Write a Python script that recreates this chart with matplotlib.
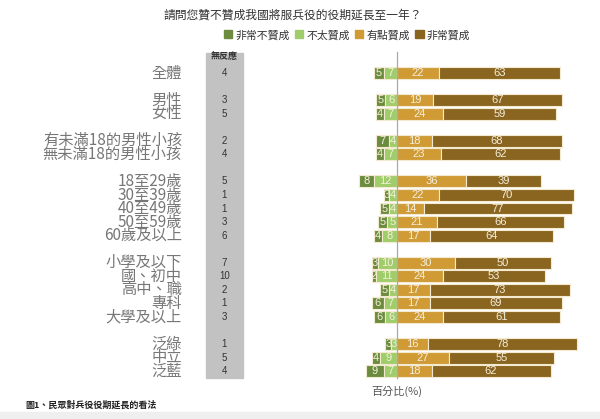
import matplotlib.pyplot as plt
import matplotlib.patches as mpatches
import numpy as np

plt.rcParams['font.family'] = ['Noto Sans CJK TC', 'DejaVu Sans']

labels = ['全體', '', '男性', '女性', '', '有未滿18的男性小孩', '無未滿18的男性小孩', '',
          '18至29歲', '30至39歲', '40至49歲', '50至59歲', '60歲及以上', '',
          '小學及以下', '國、初中', '高中、職', '專科', '大學及以上', '',
          '泛綠', '中立', '泛藍']
strongly_against = [5, None, 5, 4, None, 7, 4, None, 8, 3, 5, 5, 4, None, 3, 2, 5, 6, 6, None, 3, 4, 9]
somewhat_against = [7, None, 6, 7, None, 4, 7, None, 12, 4, 4, 5, 8, None, 10, 11, 4, 7, 6, None, 3, 9, 7]
somewhat_for = [22, None, 19, 24, None, 18, 23, None, 36, 22, 14, 21, 17, None, 30, 24, 17, 17, 24, None, 16, 27, 18]
strongly_for = [63, None, 67, 59, None, 68, 62, None, 39, 70, 77, 66, 64, None, 50, 53, 73, 69, 61, None, 78, 55, 62]
no_response = [4, None, 3, 5, None, 2, 4, None, 5, 1, 1, 3, 6, None, 7, 10, 2, 1, 3, None, 1, 5, 4]

series_names = ['非常不贊成', '不太贊成', '有點贊成', '非常贊成']
colors = ['#6b8c3e', '#9fcd6a', '#d09a35', '#8a6520']

fig = plt.figure(figsize=(6, 4.19), dpi=100)
ax = fig.add_axes([0, 0, 1, 1])
# 1.92 px per percent, zero line at x=397px; 13.55 px per row, first row at y=73px
ax.set_xlim(-397 / 1.92, 203 / 1.92)
ax.set_ylim((419 - 73) / 13.55, -73 / 13.55)
ax.axis('off')

rows = [i for i, l in enumerate(labels) if l]
sa = np.array([strongly_against[i] for i in rows], float)
wa = np.array([somewhat_against[i] for i in rows], float)
wf = np.array([somewhat_for[i] for i in rows], float)
sf = np.array([strongly_for[i] for i in rows], float)
y = np.array(rows)

edge = '#f3ead0'
h = 0.88
segs = [(-wa - sa, sa), (-wa, wa), (np.zeros_like(wf), wf), (wf, sf)]
for (left, width), c in zip(segs, colors):
    ax.barh(y, width, left=left, height=h, color=c, edgecolor=edge, linewidth=0.8, zorder=2)
    for yy, l, w in zip(y, left, width):
        ax.text(l + w / 2, yy, f'{int(w)}', ha='center', va='center',
                fontsize=8, color='#f5efdc', family=['Liberation Sans'], zorder=3)

# zero line
ax.plot([0, 0], [-1.55, 22.5], color='#a8a8a8', lw=0.9, zorder=4)

# no-response column
ax.add_patch(mpatches.Rectangle((-99.5, -1.5), 19.3, 24.0, color='#c2c2c2', zorder=1))
ax.text(-89.9, -1.2, '無反應', ha='center', va='center', fontsize=6.5,
        fontweight='bold', color='#333333')
for yy in rows:
    ax.text(-89.9, yy, str(no_response[yy]), ha='center', va='center', fontsize=7,
            color='#333333', family=['Liberation Sans'])

# row labels
for yy in rows:
    ax.text(-112, yy, labels[yy], ha='right', va='center', fontsize=11, color='#777777')

ax.text(-13.5, 23.5, '百分比(%)', ha='left', va='center', fontsize=8, color='#555555')

fig.text(293 / 600, 1 - 15 / 419, '請問您贊不贊成我國將服兵役的役期延長至一年？',
         ha='center', va='center', fontsize=8.5, color='#333333')

handles = [mpatches.Patch(color=c) for c in colors]
fig.legend(handles, series_names, loc='center', bbox_to_anchor=(347 / 600, 1 - 35 / 419),
           ncol=4, frameon=False, fontsize=7.8, handlelength=0.75, handleheight=0.75,
           handletextpad=0.3, columnspacing=0.5, labelcolor='#333333')

fig.text(25 / 600, 1 - 405 / 419, '圖1、民眾對兵役役期延長的看法', ha='left', va='center',
         fontsize=6.5, fontweight='bold', color='#222222')
fig.patches.append(mpatches.Rectangle((0, 0), 1, 7 / 419, transform=fig.transFigure,
                                      color='#efefef', zorder=0))

fig.savefig('out.png', dpi=100)
